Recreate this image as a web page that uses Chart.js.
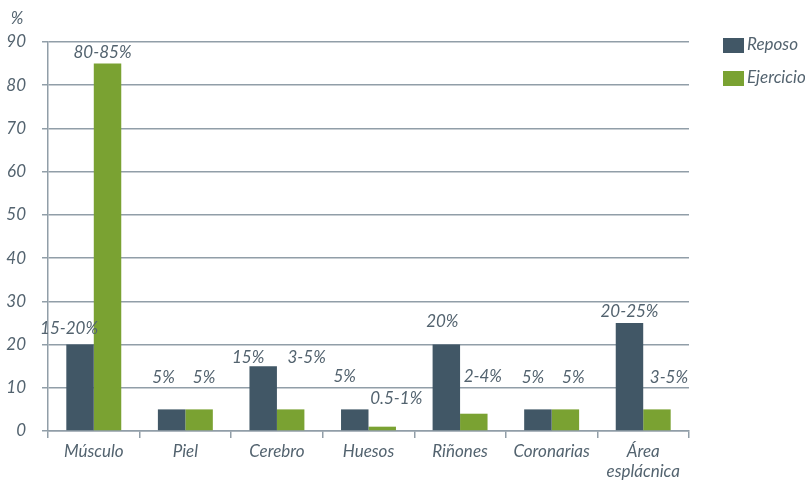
<!DOCTYPE html>
<html>
<head>
<meta charset="utf-8">
<script src="https://cdn.jsdelivr.net/npm/chart.js@4"></script>
<style>
  body { margin: 0; background: #fff; }
  #wrap { width: 805px; height: 481px; }
</style>
</head>
<body>
<div id="wrap"><canvas id="flujoChart"></canvas></div>
<script>
// datos: % del gasto cardiaco por territorio
const categorias = ['Músculo', 'Piel', 'Cerebro', 'Huesos', 'Riñones', 'Coronarias', ['Área', 'esplácnica']];
const reposo = [20, 5, 15, 5, 20, 5, 25];
const ejercicio = [85, 5, 5, 1, 4, 5, 5];
const etiquetasReposo = ['15-20%', '5%', '15%', '5%', '20%', '5%', '20-25%'];
const etiquetasEjercicio = ['80-85%', '5%', '3-5%', '0.5-1%', '2-4%', '5%', '3-5%'];
const ticksY = [0, 10, 20, 30, 40, 50, 60, 70, 80, 90];

const colorTexto = '#53636f';
const colorLinea = '#919ea8';
const fuente = { family: 'Lato', size: 17, style: 'italic' };

// desplazamiento [dx, dy] de cada etiqueta respecto al tope de su barra
const ajusteReposo = [[-11, -16], [-8, -32], [-15, -9], [-10, -33], [-4, -23], [-5, -32], [0, -11]];
const ajusteEjercicio = [[-5, -11], [5, -32], [16, -52], [14, -28], [9, -37], [8, -32], [12, -32]];

const etiquetasBarras = {
    id: 'etiquetasBarras',
    afterDatasetsDraw(chart) {
        const ctx = chart.ctx;
        ctx.save();
        ctx.font = 'italic 17px Lato';
        ctx.fillStyle = colorTexto;
        ctx.textAlign = 'center';
        ctx.textBaseline = 'middle';
        const grupos = [[etiquetasReposo, ajusteReposo], [etiquetasEjercicio, ajusteEjercicio]];
        grupos.forEach(function(g, i) {
            chart.getDatasetMeta(i).data.forEach(function(bar, j) {
                ctx.fillText(g[0][j], bar.x + g[1][j][0], bar.y + g[1][j][1]);
            });
        });

        // unidad del eje
        ctx.fillText('%', 17, 19);

        // leyenda a la derecha
        ctx.textAlign = 'left';
        chart.data.datasets.forEach(function(ds, i) {
            const y = 38 + i * 33;
            ctx.fillStyle = ds.backgroundColor;
            ctx.fillRect(723, y, 21, 15);
            ctx.fillStyle = colorTexto;
            ctx.fillText(ds.label, 747, y + 7);
        });
        ctx.restore();
    }
};

const ctx = document.getElementById('flujoChart');

new Chart(ctx, {
    type: 'bar',
    data: {
        labels: categorias,
        datasets: [{
            label: 'Reposo',
            data: reposo,
            backgroundColor: '#415766',
            categoryPercentage: 0.6,
            barPercentage: 1.0
        }, {
            label: 'Ejercicio',
            data: ejercicio,
            backgroundColor: '#7aa232',
            categoryPercentage: 0.6,
            barPercentage: 1.0
        }]
    },
    options: {
        responsive: true,
        maintainAspectRatio: false,
        animation: false,
        layout: { padding: { top: 42, right: 116, left: 0, bottom: 0 } },
        plugins: {
            legend: { display: false },
            tooltip: { enabled: false }
        },
        scales: {
            x: {
                grid: {
                    drawOnChartArea: false,
                    tickLength: 7,
                    color: colorLinea,
                    lineWidth: 1.5
                },
                border: { color: colorLinea, width: 1.5 },
                ticks: {
                    color: colorTexto,
                    font: fuente,
                    padding: 3,
                    maxRotation: 0
                },
                afterFit(scale) { scale.height = 50; }
            },
            y: {
                min: 0,
                max: 90,
                afterBuildTicks(scale) {
                    scale.ticks = ticksY.map(function(v) { return { value: v }; });
                },
                grid: {
                    color: colorLinea,
                    lineWidth: 1.5,
                    tickLength: 6
                },
                border: { color: colorLinea, width: 1.5 },
                ticks: {
                    color: colorTexto,
                    font: fuente,
                    padding: 16
                },
                afterFit(scale) { scale.width = 48; }
            }
        }
    },
    plugins: [etiquetasBarras]
});
</script>
</body>
</html>
